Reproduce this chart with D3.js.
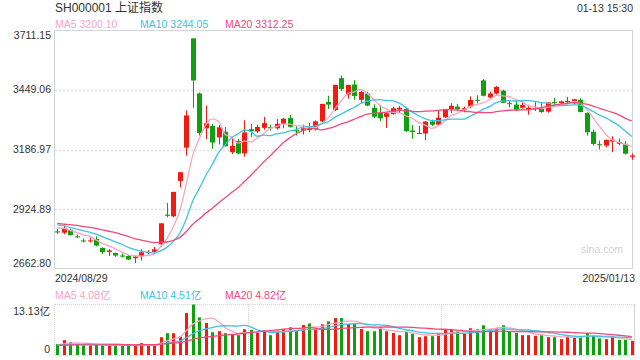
<!DOCTYPE html>
<html lang="zh">
<head>
<meta charset="UTF-8">
<title>SH000001 上证指数</title>
<script src="https://d3js.org/d3.v7.min.js"></script>
<style>
  body { margin: 0; background: #fff; }
  svg { display: block; font-family: "Liberation Sans", Arial, "Noto Sans CJK SC", sans-serif; }
</style>
</head>
<body>
<svg id="chart" width="640" height="360"></svg>
<script>
// trading days shown
const dates = [
  "2024/08/29","2024/08/30",
  "2024/09/02","2024/09/03","2024/09/04","2024/09/05","2024/09/06","2024/09/09","2024/09/10","2024/09/11","2024/09/12","2024/09/13",
  "2024/09/18","2024/09/19","2024/09/20","2024/09/23","2024/09/24","2024/09/25","2024/09/26","2024/09/27","2024/09/30",
  "2024/10/08","2024/10/09","2024/10/10","2024/10/11","2024/10/14","2024/10/15","2024/10/16","2024/10/17","2024/10/18",
  "2024/10/21","2024/10/22","2024/10/23","2024/10/24","2024/10/25","2024/10/28","2024/10/29","2024/10/30","2024/10/31",
  "2024/11/01","2024/11/04","2024/11/05","2024/11/06","2024/11/07","2024/11/08","2024/11/11","2024/11/12","2024/11/13",
  "2024/11/14","2024/11/15","2024/11/18","2024/11/19","2024/11/20","2024/11/21","2024/11/22","2024/11/25","2024/11/26",
  "2024/11/27","2024/11/28","2024/11/29",
  "2024/12/02","2024/12/03","2024/12/04","2024/12/05","2024/12/06","2024/12/09","2024/12/10","2024/12/11","2024/12/12",
  "2024/12/13","2024/12/16","2024/12/17","2024/12/18","2024/12/19","2024/12/20","2024/12/23","2024/12/24","2024/12/25",
  "2024/12/26","2024/12/27","2024/12/30","2024/12/31",
  "2025/01/02","2025/01/03","2025/01/06","2025/01/07","2025/01/08","2025/01/09","2025/01/10","2025/01/13"
];

const open = [
  2828,2822,2835,2806,2788,2784,2795,2755,2738,2733,2722,2720,2710,2718,2733,2738,2770.75,2901.4,2893.9,3049,3195,
  3674.4,3433,3280,3290,3240,3265,3175,3224,3170,3276,3266,3282,3285,3280,3300,3325,3272,3270,
  3277,3277,3310,3396,3360,3500,3428,3472,3405,3432,3370,3347,3330,3342,3362,3365,3270,3257,3257,3310,3296,
  3328,3364,3375,3362,3376,3405,3490,3415,3432,3445,3390,3384,3370,3363,3366,3367,3353,3395,3390,3395,3392,3405,
  3347,3265,3210,3204,3222,3220,3212,3155
];
const high = [
  2839,2857,2840,2814,2797,2800,2806,2758,2750,2735,2731,2725,2723,2749,2745,2759,2863.13,2952.5,3000.95,3087.53,3358.59,
  3674.4,3437,3380,3299,3295,3286,3238,3234,3315,3299,3296,3330,3296,3321,3325,3339,3290,3296,
  3304,3315,3387,3423,3470.7,3511.5,3471,3491,3445,3440,3385,3383,3350,3375,3378,3372,3294,3290,3311,3318,3359,
  3365,3390,3387,3375,3420,3425,3496,3441,3466,3450,3404,3400,3400,3383,3395,3390,3394,3413,3402,3417,3409,3412,
  3350,3275,3226,3230,3245,3235,3224,3170
];
const low = [
  2816,2815,2810,2798,2779,2779,2762,2729,2720,2716,2713,2702,2689.7,2700,2728,2734,2759,2889,2889,3020,3160,
  3370,3248,3232,3190,3210,3200,3167,3166,3155,3242,3260,3274,3270,3274,3280,3283,3248,3253,
  3262,3270,3306,3365,3355,3444,3410,3405,3390,3377,3325,3311,3282,3340,3347,3265,3234,3256,3228,3290,3294,
  3326,3347,3355,3350,3368,3389,3420,3410,3428,3390,3372,3355,3366,3339,3356,3348,3348,3385,3385,3385,3385,3350,
  3248,3204,3187,3196,3175,3205,3165,3142
];
const close = [
  2823.11,2842.21,2811.04,2802.98,2784.28,2788.31,2765.81,2736.49,2744.19,2721.80,2717.12,2704.09,2717.28,2736.02,2736.81,
  2748.92,2863.13,2896.31,3000.95,3087.53,3336.50,
  3489.78,3258.86,3301.93,3217.74,3284.32,3201.29,3202.95,3169.38,3261.56,3268.11,3285.87,3302.80,3280.26,3299.70,
  3322.20,3286.41,3266.24,3279.82,
  3272.01,3310.21,3386.99,3383.81,3470.66,3452.30,3470.07,3421.97,3439.28,3379.84,3330.73,3323.85,3346.01,3367.99,
  3370.40,3267.19,3263.76,3259.76,3309.78,3295.70,3326.46,
  3363.98,3378.81,3364.65,3368.86,3404.08,3402.53,3422.66,3432.49,3461.50,3391.88,3386.33,3361.49,3382.21,3370.03,
  3368.07,3351.26,3393.53,3393.35,3398.08,3400.14,3407.33,3351.76,
  3262.56,3211.43,3206.92,3229.64,3230.17,3211.39,3168.52,3160.76
];
// volume, 亿
const volume = [
  2.83,3.86,3.35,2.83,2.49,2.49,2.83,2.49,2.49,2.49,2.49,2.49,2.49,3.09,2.49,2.49,4.63,5.66,5.66,4.80,10.9,
  13.13,9.78,8.33,5.92,6.18,5.66,5.32,5.15,6.70,6.52,5.83,6.44,5.15,6.35,6.70,7.20,6.35,7.80,
  8.20,6.80,7.98,8.75,9.60,9.60,8.06,8.06,6.78,6.18,6.18,7.30,6.18,5.75,5.15,6.00,5.50,4.63,4.89,4.89,5.75,
  6.60,6.60,6.18,5.50,6.95,6.70,7.72,6.70,6.95,7.72,6.18,5.75,5.15,5.15,4.98,5.32,4.63,4.63,4.12,4.80,4.66,4.83,
  5.70,5.18,4.32,4.12,4.63,3.95,3.95,3.69
];
// the 19 sessions before the first one, needed for the moving averages
const prevClose = [2905.34,2860.70,2867.28,2869.90,2870.22,2862.19,2858.20,2867.95,2850.65,2877.36,
  2879.43,2893.67,2866.66,2856.58,2848.77,2854.37,2855.52,2848.73,2837.43];
const prevVolume = [2.9,2.8,2.6,2.5,2.4,2.3,2.4,2.3,2.2,2.5,2.6,2.7,2.5,2.4,2.3,2.5,2.4,2.6,2.7];

const yTicks = [2662.80, 2924.89, 3186.97, 3449.06, 3711.15];
const maPeriods = [5, 10, 20];
const maColors = ["#f7a6c2", "#3fc3e0", "#ee4a7a"];
const priceMaText = ["3200.10", "3244.05", "3312.25"];
const volMaText = ["4.08亿", "4.51亿", "4.82亿"];

const upColor = "#f21b12", downColor = "#0ea00e";

const svg = d3.select("#chart");

// scales
const x = d3.scaleBand().domain(dates).range([54, 635]).paddingInner(0.25).paddingOuter(0.125);
const y = d3.scaleLinear().domain([2662.80, 3711.15]).range([269, 30]);
const yv = d3.scaleLinear().domain([0, 13.13]).range([355, 304.5]);
const cx = d => Math.round(x(d) + x.bandwidth() / 2);

function movingAvg(prev, arr, n) {
  const all = prev.concat(arr);
  return arr.map((v, i) => d3.mean(all.slice(prev.length + i - n + 1, prev.length + i + 1)));
}

// header
svg.append("text").attr("x", 55).attr("y", 12).attr("font-size", 12).attr("fill", "#333")
  .text("SH000001 上证指数");
svg.append("text").attr("x", 633).attr("y", 12).attr("font-size", 10.5).attr("fill", "#333")
  .attr("text-anchor", "end").text("01-13 15:30");

// legends
const legendX = [55, 140, 225];
maPeriods.forEach((p, k) => {
  svg.append("text").attr("x", legendX[k]).attr("y", 27.5).attr("font-size", 10.5)
    .attr("fill", maColors[k]).text(`MA${p} ${priceMaText[k]}`);
  svg.append("text").attr("x", legendX[k]).attr("y", 299).attr("font-size", 10.5)
    .attr("fill", maColors[k]).text(`MA${p} ${volMaText[k]}`);
});

// price panel frame + grid
svg.append("rect").attr("x", 54.5).attr("y", 30.5).attr("width", 578).attr("height", 238)
  .attr("fill", "none").attr("stroke", "#d4d4d4");
svg.selectAll(".grid").data(yTicks.slice(1, 4)).enter().append("line")
  .attr("x1", 55).attr("x2", 632).attr("y1", d => Math.round(y(d)) + 0.5).attr("y2", d => Math.round(y(d)) + 0.5)
  .attr("stroke", "#dedede").attr("stroke-width", 1.5).attr("stroke-dasharray", "2,2");

svg.selectAll(".ylab").data(yTicks).enter().append("text")
  .attr("x", 51).attr("text-anchor", "end").attr("font-size", 10.5).attr("fill", "#333")
  .attr("y", (d, i) => i === 0 ? y(d) - 2 : (i === yTicks.length - 1 ? y(d) + 9 : y(d) + 3.5))
  .text(d => d.toFixed(2));

svg.append("text").attr("x", 623).attr("y", 253).attr("font-size", 10.5).attr("fill", "#d2d2d2")
  .attr("text-anchor", "end").text("sina.com");

// candles
const idx = d3.range(dates.length);
const col = i => close[i] >= open[i] ? upColor : downColor;
const candles = svg.append("g");
candles.selectAll("line").data(idx).enter().append("line")
  .attr("x1", i => cx(dates[i]) + 0.5).attr("x2", i => cx(dates[i]) + 0.5)
  .attr("y1", i => y(high[i])).attr("y2", i => y(low[i]))
  .attr("stroke", col).attr("stroke-width", 1);
candles.selectAll("rect").data(idx).enter().append("rect")
  .attr("x", i => cx(dates[i]) - 2).attr("width", 5)
  .attr("y", i => y(Math.max(open[i], close[i])))
  .attr("height", i => Math.max(1, Math.abs(y(open[i]) - y(close[i]))))
  .attr("fill", col);

// price MA lines
const line = d3.line().x((v, i) => x(dates[i]) + x.bandwidth() / 2).y(v => y(v)).curve(d3.curveMonotoneX);
maPeriods.forEach((p, k) => {
  svg.append("path").datum(movingAvg(prevClose, close, p)).attr("d", line)
    .attr("fill", "none").attr("stroke", maColors[k]).attr("stroke-width", 1.3);
});

// axis dates
svg.append("text").attr("x", 55).attr("y", 282).attr("font-size", 10.5).attr("fill", "#333").text(dates[0]);
svg.append("text").attr("x", 635).attr("y", 282).attr("font-size", 10.5).attr("fill", "#333")
  .attr("text-anchor", "end").text(dates[dates.length - 1]);

// volume panel frame
const vFrame = svg.append("g").attr("stroke", "#d4d4d4").attr("fill", "none");
vFrame.append("line").attr("x1", 55).attr("x2", 635).attr("y1", 304.5).attr("y2", 304.5).attr("stroke-dasharray", "1,1");
vFrame.append("line").attr("x1", 55).attr("x2", 635).attr("y1", 355.5).attr("y2", 355.5).attr("stroke-dasharray", "1,1");
vFrame.append("line").attr("x1", 54.5).attr("x2", 54.5).attr("y1", 304).attr("y2", 356).attr("stroke-dasharray", "1,1");
vFrame.append("line").attr("x1", 634.5).attr("x2", 634.5).attr("y1", 304).attr("y2", 356);
[248.5, 441.5].forEach(v => vFrame.append("line").attr("x1", v).attr("x2", v).attr("y1", 304).attr("y2", 356)
  .attr("stroke-dasharray", "1,1"));

svg.append("text").attr("x", 50).attr("y", 315).attr("text-anchor", "end").attr("font-size", 10.5)
  .attr("fill", "#333").text("13.13亿");
svg.append("text").attr("x", 50).attr("y", 353).attr("text-anchor", "end").attr("font-size", 10.5)
  .attr("fill", "#333").text("0");

svg.append("g").selectAll("rect").data(idx).enter().append("rect")
  .attr("x", i => cx(dates[i]) - 1).attr("width", 3)
  .attr("y", i => yv(volume[i])).attr("height", i => yv(0) - yv(volume[i]))
  .attr("fill", col);

const vline = d3.line().x((v, i) => x(dates[i]) + x.bandwidth() / 2).y(v => yv(v)).curve(d3.curveMonotoneX);
maPeriods.forEach((p, k) => {
  svg.append("path").datum(movingAvg(prevVolume, volume, p)).attr("d", vline)
    .attr("fill", "none").attr("stroke", maColors[k]).attr("stroke-width", 1.3);
});
</script>
</body>
</html>
